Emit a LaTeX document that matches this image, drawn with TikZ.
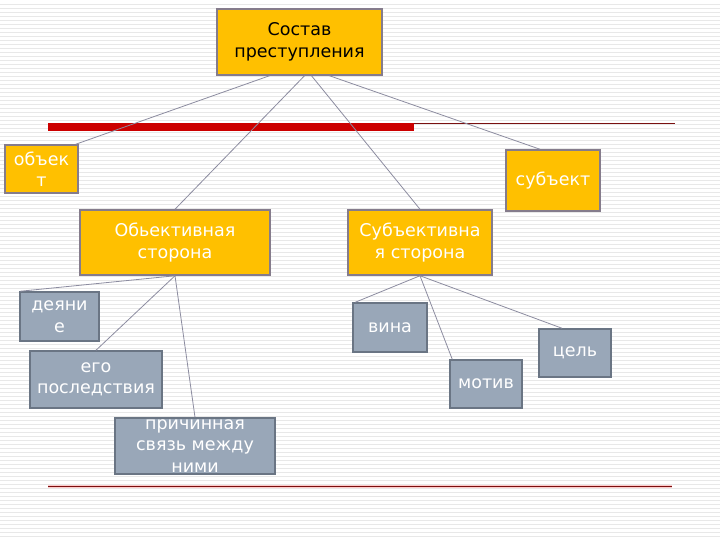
\documentclass[tikz,border=0pt]{standalone}
\usepackage{fontspec}
\setmainfont{DejaVu Sans}
\usepackage{xcolor}
\usepackage{tikz}

\definecolor{boxyellow}{HTML}{FFC000}
\definecolor{yellowedge}{HTML}{857C8C}
\definecolor{boxgray}{HTML}{99A7B8}
\definecolor{grayedge}{HTML}{6A7584}
\definecolor{barred}{HTML}{CC0000}
\definecolor{linered}{HTML}{7A1010}
\definecolor{wire}{HTML}{8C8CA0}

\tikzset{
  ybox/.style={draw=yellowedge, line width=1.5pt, fill=boxyellow, text=white, align=center, inner sep=0pt},
  gbox/.style={draw=grayedge, line width=1.5pt, fill=boxgray, text=white, align=center, inner sep=0pt},
  wire/.style={draw=wire, line width=0.8pt}
}

\begin{document}
\begin{tikzpicture}[x=1pt, y=-1pt, font=\fontsize{17.5}{21.5}\selectfont]
        \useasboundingbox (0,0) rectangle (720,540);
        \fill[white] (0,0) rectangle (720,540);

        % Background stripes
        \foreach \k in {1,...,134}
            \draw[gray!18, line width=0.8pt] (0,4*\k) -- (720,4*\k);

        % Red bar and lines
        \fill[barred] (48,123) rectangle (414,131);
        \draw[linered, line width=1pt] (414,123.5) -- (675,123.5);
        \draw[red!20, line width=3pt] (48,486) -- (672,486);
        \draw[linered, line width=1pt] (48,486) -- (672,486);

        % Top
        \node[ybox, text=black, minimum width=165pt, minimum height=66pt] (sostav) at (299.5,42) {Состав\\преступления};

        % Second level
        \node[ybox, minimum width=73pt, minimum height=48pt] (obekt) at (41.5,169) {объек\\т};
        \node[ybox, minimum width=94pt, minimum height=61pt] (subekt) at (553,180.5) {субъект};

        % Sides
        \node[ybox, minimum width=190pt, minimum height=65pt] (obstor) at (175,242.5) {Обьективная\\сторона};
        \node[ybox, minimum width=144pt, minimum height=65pt] (substor) at (420,242.5) {Субъективна\\я сторона};

        % Objective side elements
        \node[gbox, minimum width=79pt, minimum height=49pt] (deyanie) at (59.5,316.5) {деяни\\е};
        \node[gbox, minimum width=132pt, minimum height=57pt] (posled) at (96,379.5) {его\\последствия};
        \node[gbox, minimum width=160pt, minimum height=56pt, inner ysep=-4pt] (svyaz) at (195,446) {причинная\\связь между\\ними};

        % Subjective side elements
        \node[gbox, minimum width=74pt, minimum height=49pt] (vina) at (390,327.5) {вина};
        \node[gbox, minimum width=72pt, minimum height=48pt] (motiv) at (486,384) {мотив};
        \node[gbox, minimum width=72pt, minimum height=48pt] (tsel) at (575,353) {цель};

        % Connectors
        \draw[wire] ([xshift=-30pt]sostav.south) -- ([xshift=-3pt]obekt.north east);
        \draw[wire] ([xshift=5pt]sostav.south) -- (obstor.north);
        \draw[wire] ([xshift=12pt]sostav.south) -- (substor.north);
        \draw[wire] ([xshift=30pt]sostav.south) -- ([xshift=-13pt]subekt.north);

        \draw[wire] (obstor.south) -- ([xshift=1pt]deyanie.north west);
        \draw[wire] (obstor.south) -- (posled.north);
        \draw[wire] (obstor.south) -- (svyaz.north);

        \draw[wire] (substor.south) -- ([xshift=3pt]vina.north west);
        \draw[wire] (substor.south) -- ([xshift=3pt]motiv.north west);
        \draw[wire] (substor.south) -- ([xshift=-13pt]tsel.north);
    \end{tikzpicture}
\end{document}
